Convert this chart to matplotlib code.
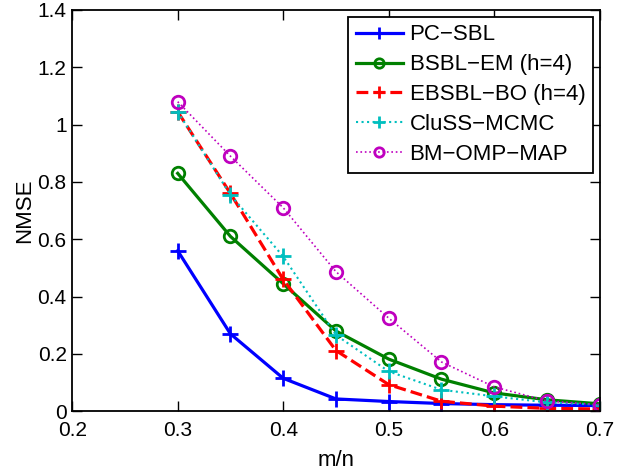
import matplotlib
matplotlib.use("Agg")
import matplotlib.pyplot as plt

plt.rcParams['font.family'] = ['Liberation Sans', 'DejaVu Sans']

# ── Data ──────────────────────────────────────────────────────────────────────
ratio = [0.30, 0.35, 0.40, 0.45, 0.50, 0.55, 0.60, 0.65, 0.70]

pc_sbl   = [0.56, 0.27, 0.115, 0.043, 0.034, 0.027, 0.023, 0.021, 0.020]
bsbl_em  = [0.83, 0.61, 0.445, 0.28, 0.182, 0.112, 0.064, 0.040, 0.026]
ebsbl_bo = [1.045, 0.76, 0.46, 0.212, 0.093, 0.035, 0.018, 0.010, 0.008]
cluss    = [1.045, 0.755, 0.54, 0.266, 0.139, 0.075, 0.052, 0.031, 0.023]
bm_omp   = [1.08, 0.89, 0.71, 0.487, 0.325, 0.172, 0.085, 0.036, 0.023]

xticks = [0.2, 0.3, 0.4, 0.5, 0.6, 0.7]
yticks = [0, 0.2, 0.4, 0.6, 0.8, 1, 1.2, 1.4]

# ── Plot ──────────────────────────────────────────────────────────────────────
fig = plt.figure(figsize=(6.17, 4.76), dpi=100)
ax = fig.add_axes([0.117, 0.136, 0.855, 0.843])

ax.plot(ratio, pc_sbl, '-+', color='blue', lw=2.3, ms=11, mew=2, label='PC−SBL')
ax.plot(ratio, bsbl_em, '-o', color=(0, 0.5, 0), lw=2.3, ms=9, mew=2,
        mfc='none', label='BSBL−EM (h=4)')
ax.plot(ratio, ebsbl_bo, '--+', color='red', lw=2.3, ms=11, mew=2, label='EBSBL−BO (h=4)')
ax.plot(ratio, cluss, ':+', color=(0, 0.75, 0.75), lw=1.5, ms=11, mew=2,
        label='CluSS−MCMC')
ax.plot(ratio, bm_omp, ':o', color=(0.75, 0, 0.75), lw=1.2, ms=9, mew=2,
        mfc='none', label='BM−OMP−MAP')

ax.set_xlim(0.2, 0.7)
ax.set_ylim(0, 1.4)
ax.set_xticks(xticks)
ax.set_yticks(yticks)
ax.set_xticklabels([f"{t:g}" for t in xticks])
ax.set_yticklabels([f"{t:g}" for t in yticks])
ax.tick_params(direction='in', top=True, right=True, labelsize=15, length=7, width=1)
ax.tick_params(axis='x', pad=7)
ax.tick_params(axis='y', pad=4)
for s in ax.spines.values():
    s.set_linewidth(1.3)

ax.set_xlabel('m/n', fontsize=16, labelpad=7)
ax.set_ylabel('NMSE', fontsize=16, labelpad=2)

leg = ax.legend(loc='upper right', fontsize=16, numpoints=1, handlelength=2.15,
                fancybox=False, framealpha=1, edgecolor='black',
                borderaxespad=0.3, labelspacing=0.4, handletextpad=0.28,
                borderpad=0.35, markerscale=0.75)
leg.get_frame().set_linewidth(1.3)

fig.savefig('out.png', dpi=100)
